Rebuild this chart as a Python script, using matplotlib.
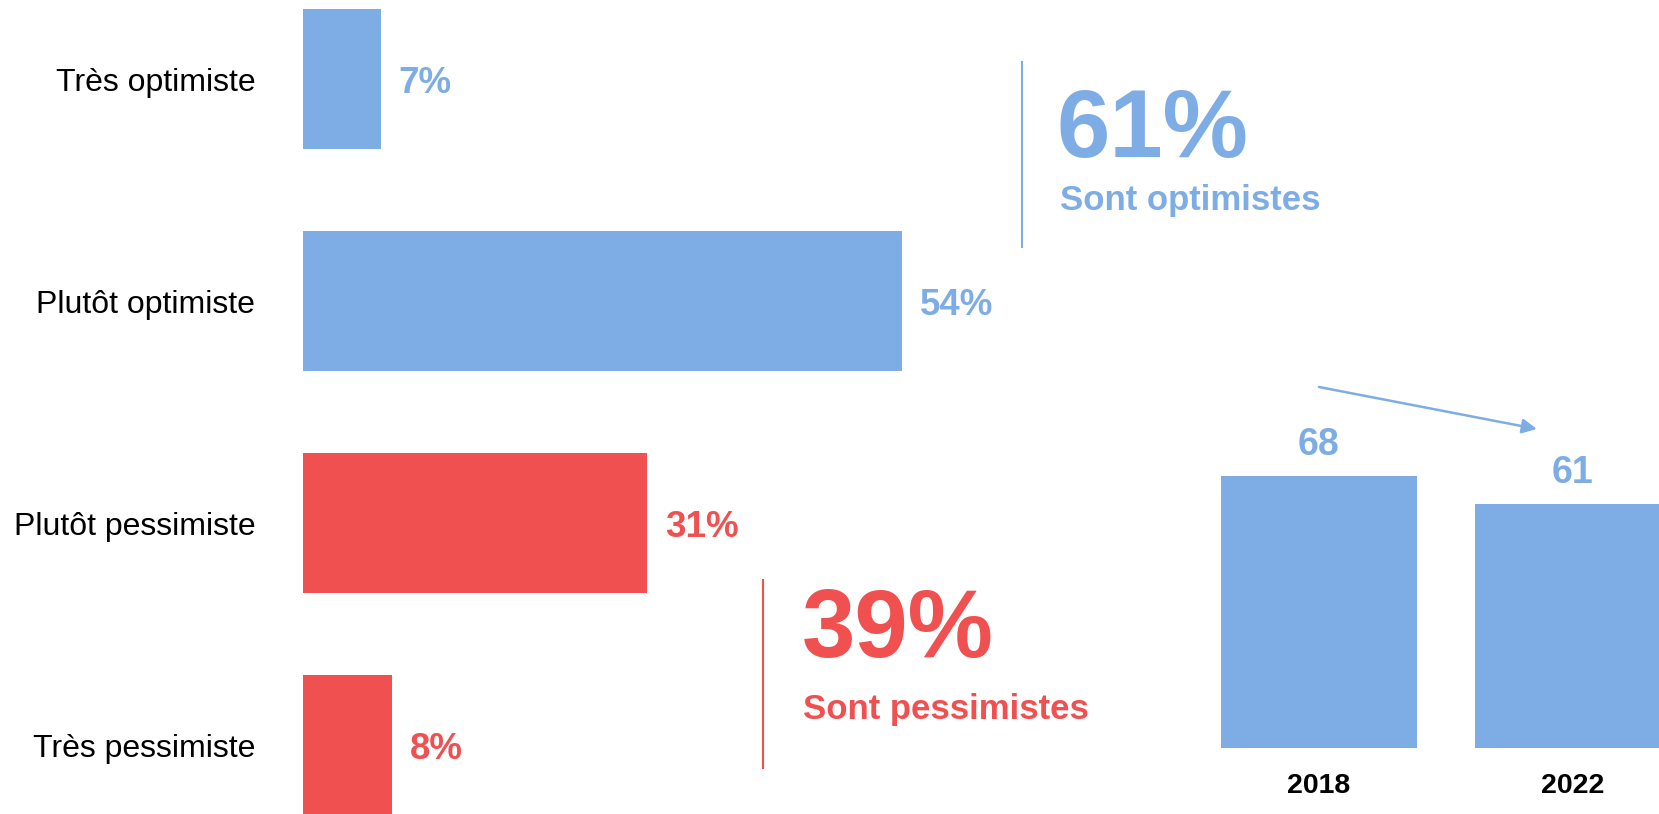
import matplotlib.pyplot as plt
from matplotlib.lines import Line2D
import numpy as np

plt.rcParams['font.family'] = ['Liberation Sans', 'DejaVu Sans']

# Data
categories = ["Très optimiste", "Plutôt optimiste", "Plutôt pessimiste", "Très pessimiste"]
shares = [7, 54, 31, 8]
is_optimist = [True, True, False, False]
years = ["2018", "2022"]
optimist_trend = [68, 61]

BLUE = "#7EADE6"
RED = "#F15050"
W, H = 1659, 814

fig = plt.figure(figsize=(W / 100, H / 100), dpi=100)


def fx(x):
    return x / W


def fy(y):
    return 1 - y / H


# Left panel: horizontal bars
ax = fig.add_axes([fx(303), 0, fx(666), 1])
y = np.arange(len(categories))
colors = [BLUE if o else RED for o in is_optimist]
ax.barh(y, shares, height=0.63, color=colors)
ax.set_xlim(0, 60)
ax.set_ylim(3.311, -0.354)
ax.axis("off")

for i, (cat, val, col) in enumerate(zip(categories, shares, colors)):
    ax.text(-4.3, i + 12 / 222, cat, ha="right", va="baseline", fontsize=23,
            color="black", clip_on=False)
    ax.text(val + 1.6, i + 14 / 222, f"{val}%", ha="left", va="baseline",
            fontsize=26.5, fontweight="bold", color=col, clip_on=False)

# Totals
total_opt = sum(v for v, o in zip(shares, is_optimist) if o)
total_pes = sum(v for v, o in zip(shares, is_optimist) if not o)

fig.add_artist(Line2D([fx(1022), fx(1022)], [fy(62), fy(247)], color=BLUE, lw=1.5))
fig.text(fx(1056), fy(157), f"{total_opt}%", fontsize=69, fontweight="bold",
         color=BLUE, ha="left", va="baseline")
fig.text(fx(1060), fy(210), "Sont optimistes", fontsize=25, fontweight="bold",
         color=BLUE, ha="left", va="baseline")

fig.add_artist(Line2D([fx(763), fx(763)], [fy(580), fy(768)], color=RED, lw=1.5))
fig.text(fx(802), fy(657), f"{total_pes}%", fontsize=69, fontweight="bold",
         color=RED, ha="left", va="baseline")
fig.text(fx(803), fy(719), "Sont pessimistes", fontsize=25, fontweight="bold",
         color=RED, ha="left", va="baseline")

# Right panel: trend bars
ax2 = fig.add_axes([fx(1190), 1 - 748 / H, fx(W - 1190), 320 / H])
x = np.arange(len(years))
ax2.bar(x, optimist_trend, width=0.77, color=BLUE)
ax2.set_xlim(-0.508, 1.339)
ax2.set_ylim(0, 80)
ax2.axis("off")

for xi, (yr, val) in enumerate(zip(years, optimist_trend)):
    ax2.text(xi, val + 5.3, f"{val}", ha="center", va="baseline", fontsize=27,
             fontweight="bold", color=BLUE, clip_on=False)
    ax2.text(xi, -11.3, yr, ha="center", va="baseline", fontsize=20.5,
             fontweight="bold", color="black", clip_on=False)

ax2.annotate("", xy=(0.858, 79.75), xytext=(0.0, 90.25), xycoords="data",
             annotation_clip=False,
             arrowprops=dict(arrowstyle="-|>", color=BLUE, lw=1.8,
                             mutation_scale=22, shrinkA=0, shrinkB=0))

plt.savefig("out.png", dpi=100)
plt.close()
